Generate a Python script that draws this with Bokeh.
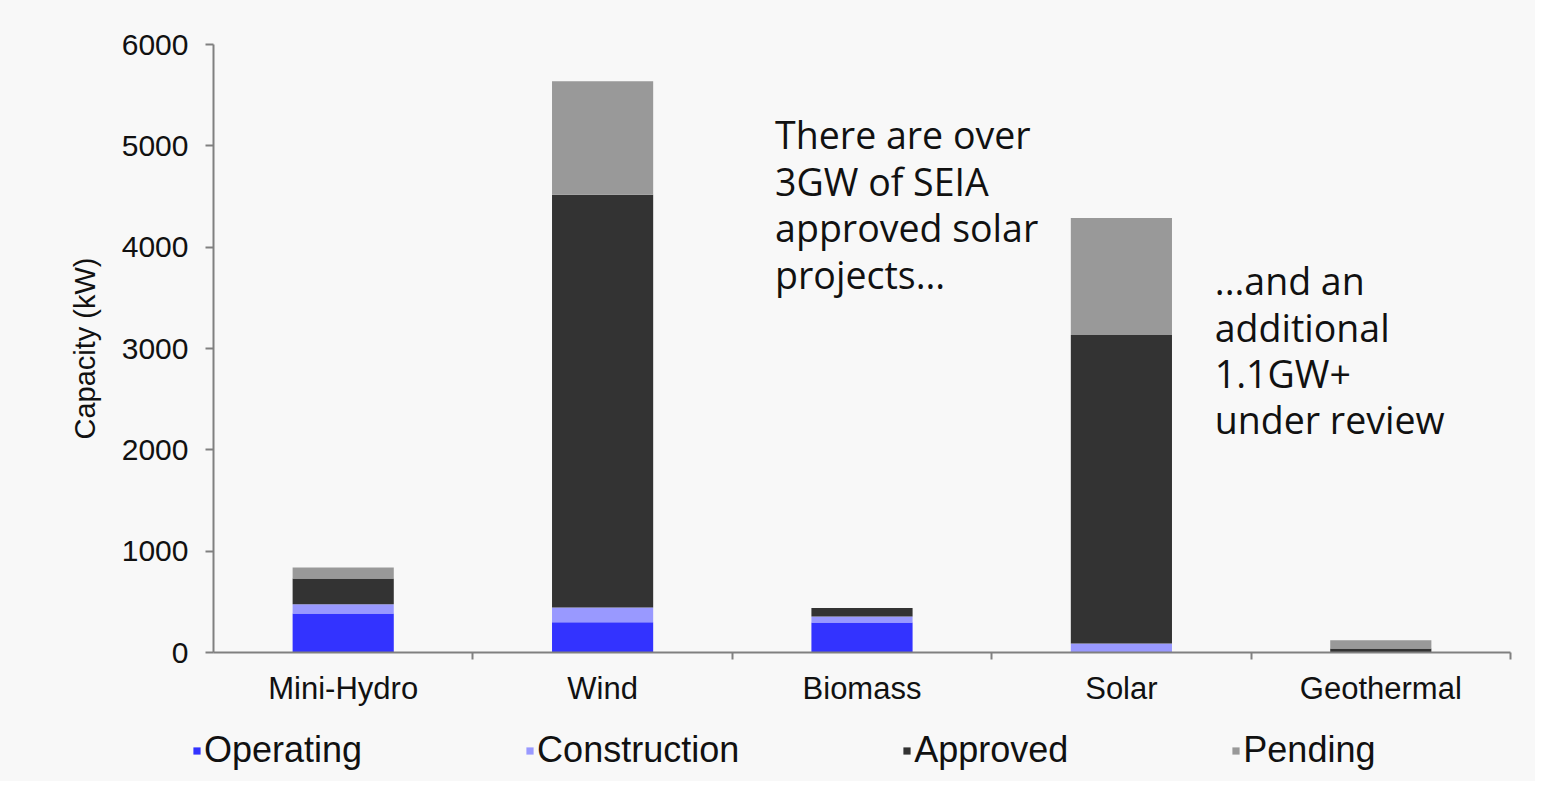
from bokeh.plotting import figure
from bokeh.layouts import column
from bokeh.models import (ColumnDataSource, Legend, LegendItem, Label, Range1d, FixedTicker)
from bokeh.embed import file_html
from bokeh.resources import INLINE

categories = ["Mini-Hydro", "Wind", "Biomass", "Solar", "Geothermal"]
operating = [385, 298, 295, 10, 0]
construction = [90, 146, 60, 80, 0]
approved = [255, 4073, 85, 3043, 40]
pending = [110, 1121, 0, 1156, 80]
series_names = ["Operating", "Construction", "Approved", "Pending"]
colors = ["#3333FF", "#9999FF", "#333333", "#999999"]
y_ticks = [0, 1000, 2000, 3000, 4000, 5000, 6000]

n = len(categories)
centers = [i + 0.5 for i in range(n)]
boundaries = [i + 1 for i in range(n)]

src = ColumnDataSource(dict(x=centers, cat=categories, Operating=operating,
                            Construction=construction, Approved=approved, Pending=pending))

BG = "#f8f8f8"
AXC = "#808080"
TXT = "#111111"
font = "Liberation Sans"

p = figure(x_range=Range1d(0, n), y_range=Range1d(0, 6000),
           width=1535, height=710, output_backend="svg", toolbar_location=None,
           background_fill_color=BG, border_fill_color=BG)
p.min_border_left = 213
p.min_border_top = 44
p.min_border_right = 25
p.min_border_bottom = 58
p.outline_line_color = None
p.grid.grid_line_color = None
p.frame_align = False

p.vbar_stack(series_names, x="x", width=0.39, source=src, color=colors, line_color=None)

xa = p.xaxis[0]
xa.ticker = FixedTicker(ticks=centers, minor_ticks=boundaries)
xa.major_label_overrides = {c: name for c, name in zip(centers, categories)}
xa.axis_line_color = AXC
xa.axis_line_width = 2
xa.major_tick_line_color = None
xa.minor_tick_line_color = AXC
xa.minor_tick_line_width = 2
xa.minor_tick_in = 0
xa.minor_tick_out = 7
xa.major_tick_in = 0
xa.major_tick_out = 7
xa.major_label_text_font = font
xa.major_label_text_font_size = "31px"
xa.major_label_text_color = TXT
xa.major_label_standoff = 11

ya = p.yaxis[0]
ya.axis_line_color = AXC
ya.axis_line_width = 2
ya.major_tick_line_color = AXC
ya.major_tick_line_width = 2
ya.minor_tick_line_color = None
ya.major_label_text_font = font
ya.major_label_text_color = TXT
ya.major_label_text_font_size = "30px"
ya.ticker = y_ticks
ya.major_tick_in = 0
ya.major_tick_out = 8
ya.major_label_standoff = 17
ya.axis_label = "Capacity (kW)"
ya.axis_label_text_font = font
ya.axis_label_text_font_style = "normal"
ya.axis_label_text_font_size = "29px"
ya.axis_label_text_color = TXT
ya.axis_label_standoff = 18

ann_font = "Open Sans"
lab1 = Label(x=2.165, y=5360, text="There are over\n3GW  of SEIA\napproved solar\nprojects...",
             text_font=ann_font, text_font_size="37.5px", text_color=TXT,
             text_baseline="top", text_line_height=0.91)
lab2 = Label(x=3.86, y=3920, text="...and an\nadditional\n1.1GW+\nunder review",
             text_font=ann_font, text_font_size="37.5px", text_color=TXT,
             text_baseline="top", text_line_height=0.91)
p.add_layout(lab1)
p.add_layout(lab2)

# legend strip (its swatch renderers sit far outside the visible y range)
lg = figure(x_range=Range1d(0, n), y_range=Range1d(100000, 100010),
            width=1535, height=71, output_backend="svg", toolbar_location=None,
            x_axis_type=None, y_axis_type=None,
            background_fill_color=BG, border_fill_color=BG, min_border=0)
lg.outline_line_color = None
lg.grid.grid_line_color = None
lg.frame_align = False
lrs = lg.vbar_stack(series_names, x="x", width=0.39, source=src, color=colors, line_color=None)
legend = Legend(items=[LegendItem(label=s, renderers=[r]) for s, r in zip(series_names, lrs)],
                orientation="horizontal", location=(192, 10), spacing=163,
                glyph_width=9, glyph_height=9, label_standoff=3,
                label_text_font=font, label_text_font_size="36px", label_text_color=TXT,
                background_fill_alpha=0, border_line_color=None, padding=0, margin=0)
lg.add_layout(legend, "center")

layout = column(p, lg, spacing=0, styles={"background-color": BG})
open("out.html", "w").write(file_html(layout, INLINE))
